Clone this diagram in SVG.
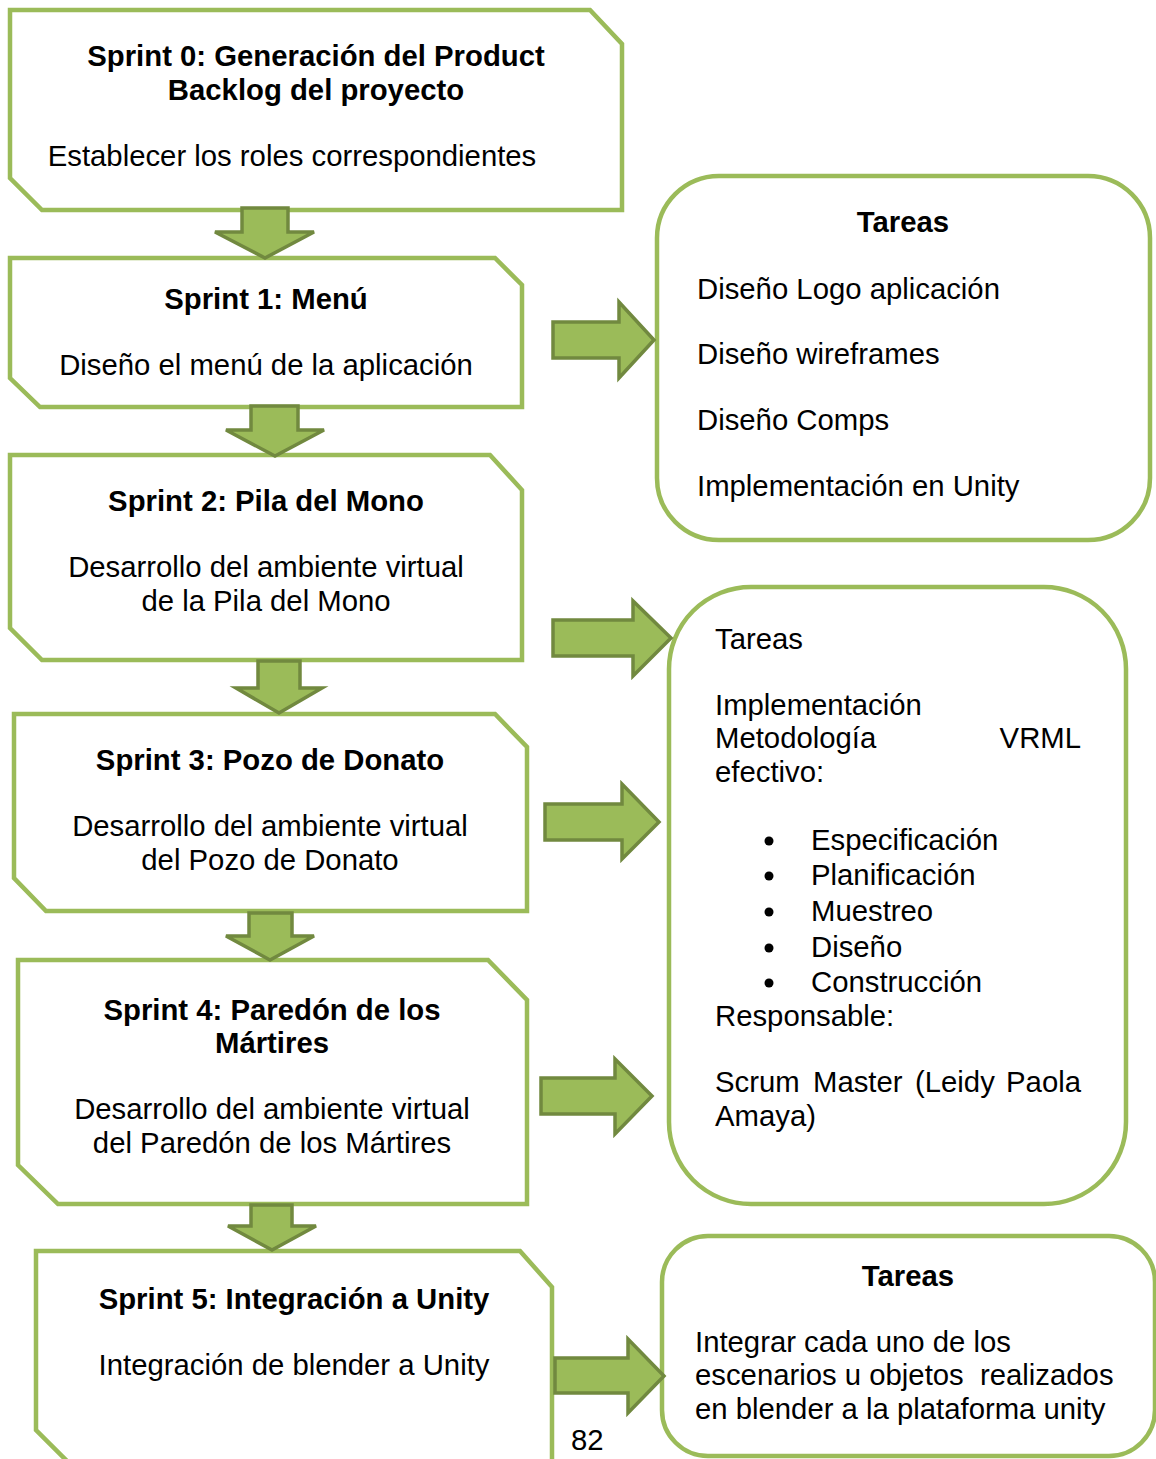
<svg xmlns="http://www.w3.org/2000/svg" width="1156" height="1459" viewBox="0 0 1156 1459">
<style>
.box{fill:#fff;stroke:#9BBB59;stroke-width:4.5;stroke-linejoin:miter}
.rbox{fill:#fff;stroke:#9BBB59;stroke-width:4.5}
.arr{fill:#9BBB59;stroke:#71893F;stroke-width:3.5;stroke-linejoin:miter}
text{font-family:"Liberation Sans",Arial,sans-serif;font-size:29.3px;fill:#000}
.b{font-weight:bold}
.c{text-anchor:middle}
</style>
<rect width="1156" height="1459" fill="#fff"/>
<g id="sprint0">
<polygon class="box" points="10,10 590,10 622,44 622,210 42,210 10,178"/>
<text class="b c" x="316" y="66">Sprint 0: Generación del Product</text>
<text class="b c" x="316" y="100">Backlog del proyecto</text>
<text class="c" x="292" y="166">Establecer los roles correspondientes</text>
</g>
<g id="sprint1">
<polygon class="box" points="10,258 495,258 522,285 522,407 40,407 10,378"/>
<text class="b c" x="266" y="309">Sprint 1: Menú</text>
<text class="c" x="266" y="375">Diseño el menú de la aplicación</text>
</g>
<g id="sprint2">
<polygon class="box" points="10,455 490,455 522,490 522,660 42,660 10,628"/>
<text class="b c" x="266" y="511">Sprint 2: Pila del Mono</text>
<text class="c" x="266" y="577">Desarrollo del ambiente virtual</text>
<text class="c" x="266" y="611">de la Pila del Mono</text>
</g>
<g id="sprint3">
<polygon class="box" points="14,714 495,714 527,747 527,911 46,911 14,878"/>
<text class="b c" x="270" y="770">Sprint 3: Pozo de Donato</text>
<text class="c" x="270" y="836">Desarrollo del ambiente virtual</text>
<text class="c" x="270" y="870">del Pozo de Donato</text>
</g>
<g id="sprint4">
<polygon class="box" points="18,960 488,960 527,1000 527,1204 58,1204 18,1165"/>
<text class="b c" x="272" y="1020">Sprint 4: Paredón de los</text>
<text class="b c" x="272" y="1053">Mártires</text>
<text class="c" x="272" y="1119">Desarrollo del ambiente virtual</text>
<text class="c" x="272" y="1153">del Paredón de los Mártires</text>
</g>
<g id="sprint5">
<polygon class="box" points="36,1251 520,1251 552,1287 552,1470 76,1470 36,1430"/>
<text class="b c" x="294" y="1309">Sprint 5: Integración a Unity</text>
<text class="c" x="294" y="1375">Integración de blender a Unity</text>
</g>
<g id="tareas1">
<rect class="rbox" x="657" y="176" width="493" height="364" rx="62" ry="62"/>
<text class="b c" x="903" y="232">Tareas</text>
<text x="697" y="299">Diseño Logo aplicación</text>
<text x="697" y="364">Diseño wireframes</text>
<text x="697" y="430">Diseño Comps</text>
<text x="697" y="496">Implementación en Unity</text>
</g>
<g id="tareas2">
<rect class="rbox" x="669" y="587" width="457" height="617" rx="82" ry="82"/>
<text x="715" y="649">Tareas</text>
<text x="715" y="715">Implementación</text>
<text x="715" y="748">Metodología</text>
<text x="1081" y="748" text-anchor="end">VRML</text>
<text x="715" y="782">efectivo:</text>
<circle cx="769" cy="841" r="4.5"/>
<circle cx="769" cy="876" r="4.5"/>
<circle cx="769" cy="912" r="4.5"/>
<circle cx="769" cy="948" r="4.5"/>
<circle cx="769" cy="983" r="4.5"/>
<text x="811" y="850">Especificación</text>
<text x="811" y="885">Planificación</text>
<text x="811" y="921">Muestreo</text>
<text x="811" y="957">Diseño</text>
<text x="811" y="992">Construcción</text>
<text x="715" y="1026">Responsable:</text>
<text x="715" y="1092">Scrum</text>
<text x="813" y="1092">Master</text>
<text x="915" y="1092">(Leidy</text>
<text x="1081" y="1092" text-anchor="end">Paola</text>
<text x="715" y="1126">Amaya)</text>
</g>
<g id="tareas3">
<rect class="rbox" x="662" y="1236" width="493" height="220" rx="46" ry="46"/>
<text class="b c" x="908" y="1286">Tareas</text>
<text x="695" y="1352">Integrar cada uno de los</text>
<text x="695" y="1385" xml:space="preserve">escenarios u objetos  realizados</text>
<text x="695" y="1419">en blender a la plataforma unity</text>
</g>
<g id="page-number">
<text x="571" y="1450">82</text>
</g>
<g id="connectors">
<polygon class="arr" points="242,208 288,208 288,232 314,232 265,258 215,232 242,232"/>
<polygon class="arr" points="251,406 298,406 298,430 324,430 275,456 226,430 251,430"/>
<polygon class="arr" points="258,661 300,661 300,688 322,688 279,713 236,688 258,688"/>
<polygon class="arr" points="249,913 292,913 292,936 314,936 270,960 226,936 249,936"/>
<polygon class="arr" points="251,1205 292,1205 292,1226 316,1226 272,1250 228,1226 251,1226"/>
<polygon class="arr" points="553,322 619,322 619,302 654,340 619,378 619,358 553,358"/>
<polygon class="arr" points="553,620 633,620 633,601 671,638 633,676 633,656 553,656"/>
<polygon class="arr" points="545,804 622,804 622,784 659,822 622,859 622,840 545,840"/>
<polygon class="arr" points="541,1078 615,1078 615,1059 652,1096 615,1134 615,1114 541,1114"/>
<polygon class="arr" points="555,1358 628,1358 628,1339 664,1376 628,1413 628,1393 555,1393"/>
</g>
</svg>
